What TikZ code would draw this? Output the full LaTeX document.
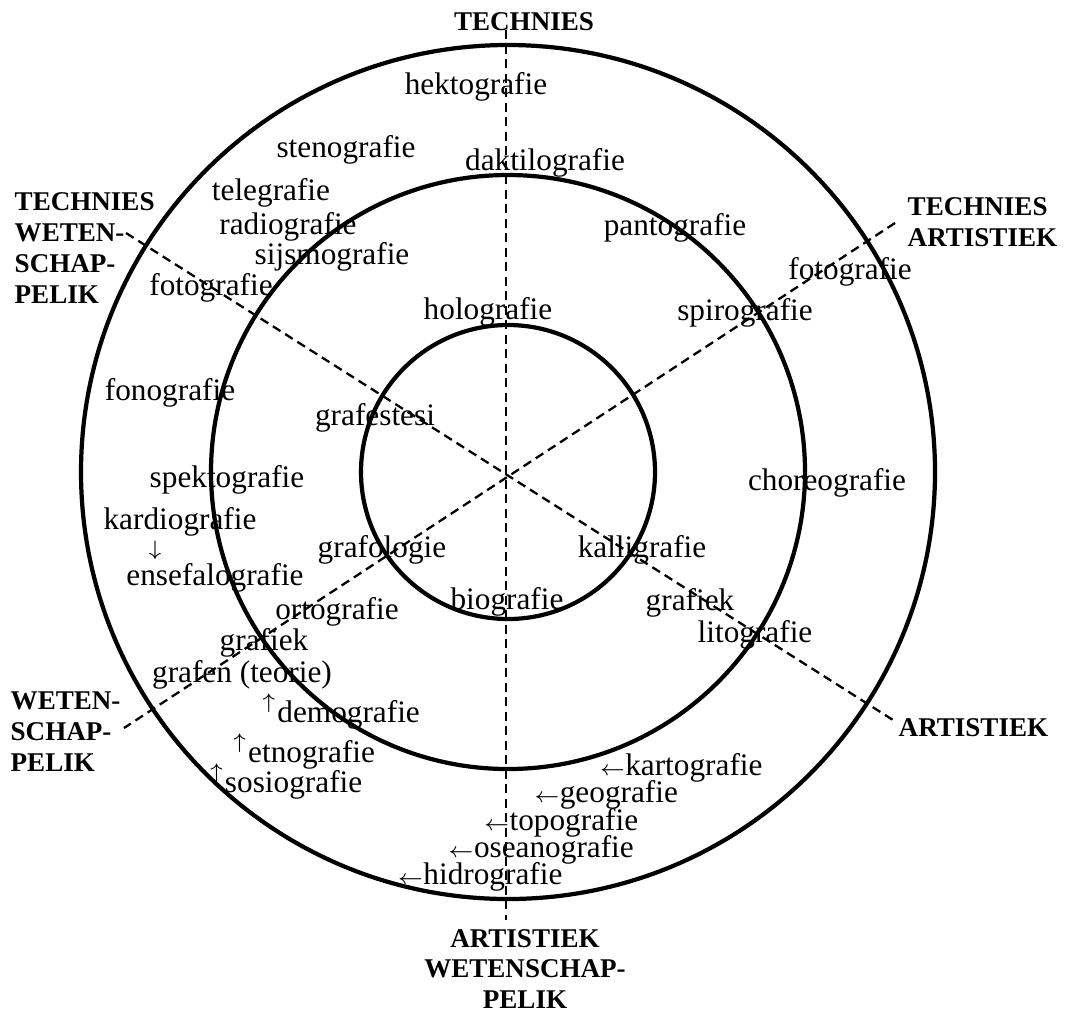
\documentclass[tikz,border=0pt]{standalone}
\usepackage{fontspec}
\setmainfont{Liberation Serif}
\usetikzlibrary{positioning}
\newcommand{\lpyl}{$\scriptstyle\leftarrow$}
\newcommand{\opyl}{$^{\uparrow}$}
\newcommand{\apyl}{$\scriptstyle\downarrow$}
\begin{document}
\begin{tikzpicture}[x=0.1mm, y=-0.1mm,
  woord/.style={font=\fontsize{8.9}{10}\selectfont, inner sep=0pt, text height=6pt, text depth=1.9pt},
  rigting/.style={font=\bfseries\fontsize{7.7}{8.8}\selectfont, inner sep=0pt},
  ring/.style={line width=1.2pt},
  as/.style={line width=0.65pt, dash pattern=on 0.9mm off 0.55mm}]

  \useasboundingbox (0,0) rectangle (1071,1012);

  % Define coordinates for the centre and the ends of the axes
  \coordinate (M) at (508,472);
  \coordinate (t) at (506,30);
  \coordinate (aw) at (506,920);
  \coordinate (tw) at (126,233);
  \coordinate (a) at (893,720);
  \coordinate (ta) at (895,223);
  \coordinate (w) at (124,728);

  % Draw rings
  \draw[ring] (M) circle[radius=14.7mm];
  \draw[ring] (M) circle[radius=29.7mm];
  \draw[ring] (M) circle[radius=42.7mm];

  % Draw dashed axes
  \draw[as] (t) -- (aw);
  \draw[as] (tw) -- (a);
  \draw[as] (ta) -- (w);

  % Direction labels
  \node[rigting] (T) at (524,22) {TECHNIES};
  \node[rigting, align=left, anchor=west] (TW) at (14,248) {TECHNIES\\WETEN-\\SCHAP-\\PELIK};
  \node[rigting, align=left, anchor=west] (TA) at (907,222) {TECHNIES\\ARTISTIEK};
  \node[rigting, anchor=west] (A) at (898,728) {ARTISTIEK};
  \node[rigting, align=left, anchor=west] (W) at (10,732) {WETEN-\\SCHAP-\\PELIK};
  \node[rigting, align=center] (AW) at (525,969) {ARTISTIEK\\WETENSCHAP-\\PELIK};

  % Words in the rings
  \node[woord] (hekto) at (476,87) {hektografie};
  \node[woord] (steno) at (346,150) {stenografie};
  \node[woord] (dakti) at (545,163) {daktilografie};
  \node[woord] (tele) at (271,193) {telegrafie};
  \node[woord] (radio) at (288,227) {radiografie};
  \node[woord] (sijs) at (332,257) {sijsmografie};
  \node[woord] (fotoL) at (211,288) {fotografie};
  \node[woord] (holo) at (488,312) {holografie};
  \node[woord] (panto) at (675,228) {pantografie};
  \node[woord] (fotoR) at (850,272) {fotografie};
  \node[woord] (spiro) at (745,313) {spirografie};
  \node[woord] (fono) at (170,393) {fonografie};
  \node[woord] (grafe) at (375,418) {grafestesi};
  \node[woord] (spek) at (227,480) {spektografie};
  \node[woord] (kardio) at (180,522) {kardiografie};
  \node[woord] (af) at (155,548) {\apyl};
  \node[woord] (ense) at (215,578) {ensefalografie};
  \node[woord] (grafo) at (382,550) {grafologie};
  \node[woord] (orto) at (337,612) {ortografie};
  \node[woord] (bio) at (507,602) {biografie};
  \node[woord] (grafiekL) at (264,643) {grafiek};
  \node[woord] (choreo) at (827,483) {choreografie};
  \node[woord] (kalli) at (642,550) {kalligrafie};
  \node[woord] (grafiekR) at (690,603) {grafiek};
  \node[woord] (lito) at (755,635) {litografie};
  \node[woord] (grafen) at (242,675) {grafen (teorie)};
  \node[woord] (demo) at (341,715) {\opyl demografie};
  \node[woord] (etno) at (304,755) {\opyl etnografie};
  \node[woord] (sosio) at (286,785) {\opyl sosiografie};
  \node[woord] (karto) at (681,768) {\lpyl kartografie};
  \node[woord] (geo) at (606,795) {\lpyl geografie};
  \node[woord] (topo) at (561,823) {\lpyl topografie};
  \node[woord] (osea) at (541,850) {\lpyl oseanografie};
  \node[woord] (hidro) at (480,877) {\lpyl hidrografie};
\end{tikzpicture}
\end{document}
